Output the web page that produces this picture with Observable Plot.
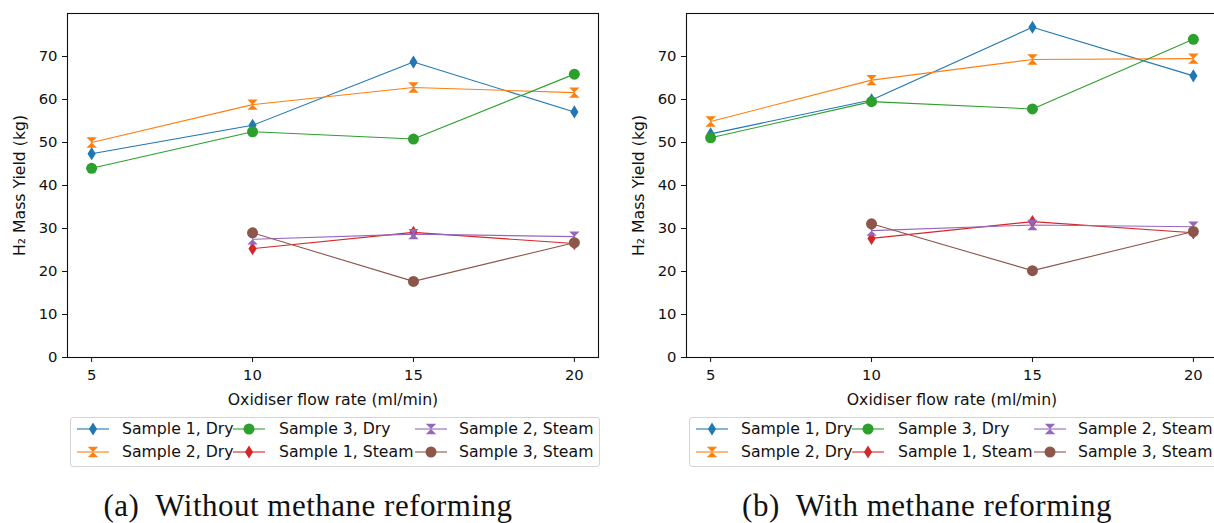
<!DOCTYPE html>
<html><head><meta charset="utf-8">
<script src="https://cdn.jsdelivr.net/npm/d3@7"></script>
<script src="https://cdn.jsdelivr.net/npm/@observablehq/plot@0.6"></script>
<style>
html,body{margin:0;padding:0;background:#fff;}
body{width:1214px;height:523px;overflow:hidden;position:relative;font-family:"DejaVu Sans",sans-serif;}
.panel{position:absolute;top:0;width:612px;height:523px;}
.legend{position:absolute;left:70px;top:417px;width:530px;height:50px;border:1px solid #d4d4d4;border-radius:3px;box-sizing:border-box;background:#fff;}
.item{position:absolute;height:20px;font-size:15.7px;line-height:20px;white-space:nowrap;color:#111;}
.handle{position:absolute;}
.caption{position:absolute;top:491px;left:0;width:616px;text-align:center;font-family:"Liberation Serif",serif;font-size:31px;line-height:30px;white-space:pre;letter-spacing:0.5px;color:#111;}
svg [aria-label$="axis label"] text, svg [aria-label$="axis label"]{font-size:15.7px;}
</style></head><body>
<div id="a" class="panel" style="left:0"></div>
<div id="b" class="panel" style="left:619px"></div>
<script>
// ---- data ----
const flowRates = [5, 10, 15, 20];
const steamFlowRates = [10, 15, 20];
const yTicks = [0, 10, 20, 30, 40, 50, 60, 70];
const seriesNames = ["Sample 1, Dry", "Sample 2, Dry", "Sample 3, Dry", "Sample 1, Steam", "Sample 2, Steam", "Sample 3, Steam"];

// (a) Without methane reforming
const a_s1Dry = [47.4, 54.0, 68.7, 57.1];
const a_s2Dry = [50.0, 58.8, 62.8, 61.6];
const a_s3Dry = [44.0, 52.5, 50.8, 65.9];
const a_s1Steam = [25.3, 29.1, 26.5];
const a_s2Steam = [27.5, 28.7, 28.1];
const a_s3Steam = [29.0, 17.7, 26.7];

// (b) With methane reforming
const b_s1Dry = [52.0, 59.9, 76.8, 65.5];
const b_s2Dry = [54.9, 64.5, 69.3, 69.5];
const b_s3Dry = [51.1, 59.5, 57.8, 74.0];
const b_s1Steam = [27.7, 31.6, 29.0];
const b_s2Steam = [29.5, 30.8, 30.4];
const b_s3Steam = [31.1, 20.2, 29.3];

const captions = ["(a)  Without methane reforming", "(b)  With methane reforming"];

// ---- styles ----
const colors = ["#1f77b4", "#ff7f0e", "#2ca02c", "#d62728", "#9467bd", "#8c564b"];
const thinDiamond = {draw(ctx, size) {const r = Math.sqrt(size / Math.PI), w = 0.62 * r;
  ctx.moveTo(0, -r); ctx.lineTo(w, 0); ctx.lineTo(0, r); ctx.lineTo(-w, 0); ctx.closePath();}};
const hourglass = {draw(ctx, size) {const r = Math.sqrt(size / Math.PI);
  ctx.moveTo(-r, -r); ctx.lineTo(r, -r); ctx.lineTo(0, 0); ctx.closePath();
  ctx.moveTo(-r, r); ctx.lineTo(r, r); ctx.lineTo(0, 0); ctx.closePath();}};
const disc = {draw(ctx, size) {const r = Math.sqrt(size / Math.PI);
  ctx.moveTo(r, 0); ctx.arc(0, 0, r, 0, 2 * Math.PI); ctx.closePath();}};
const symbols = [thinDiamond, hourglass, disc, thinDiamond, hourglass, disc];
const radii = [6.6, 5.2, 5.5, 6.6, 5.2, 5.5];

function makeSeries(arrs) {
  return arrs.map((ys, i) => {
    const xs = ys.length === 4 ? flowRates : steamFlowRates;
    return xs.map((x, j) => ({x, y: ys[j], series: seriesNames[i]}));
  });
}

function drawPanel(el, arrs, caption) {
  const series = makeSeries(arrs);
  const marks = [];
  series.forEach((data, i) => {
    marks.push(Plot.line(data, {x: "x", y: "y", stroke: colors[i], strokeWidth: 1.1}));
    marks.push(Plot.dot(data, {x: "x", y: "y", symbol: symbols[i], r: radii[i], fill: colors[i], stroke: "none"}));
  });
  marks.push(Plot.frame({stroke: "#111", strokeWidth: 1.1}));
  marks.push(Plot.axisX({ticks: flowRates, tickSize: 5, tickPadding: 7, label: "Oxidiser flow rate (ml/min)",
    labelAnchor: "center", labelArrow: "none", labelOffset: 47}));
  marks.push(Plot.axisY({ticks: yTicks, tickSize: 5, tickPadding: 5, label: "H₂ Mass Yield (kg)",
    labelAnchor: "center", labelArrow: "none", labelOffset: 54}));
  const chart = Plot.plot({
    width: 612, height: 412,
    marginLeft: 67, marginRight: 14, marginTop: 13, marginBottom: 55,
    x: {domain: [4.25, 20.75]},
    y: {domain: [0, 80]},
    style: {fontFamily: "DejaVu Sans", fontSize: "14.8px", color: "#111", background: "transparent", overflow: "visible"},
    marks
  });
  el.appendChild(chart);

  // legend (HTML below the svg)
  const lg = document.createElement("div");
  lg.className = "legend";
  const colX = [[6, 51], [162, 208], [344, 388]];
  const rowY = [11, 34];
  seriesNames.forEach((name, i) => {
    const col = Math.floor(i / 2), row = i % 2;
    const [hx, tx] = colX[col];
    const svgNS = "http://www.w3.org/2000/svg";
    const h = document.createElementNS(svgNS, "svg");
    h.setAttribute("class", "handle");
    h.setAttribute("width", 32); h.setAttribute("height", 20);
    h.style.left = hx + "px"; h.style.top = (rowY[row] - 10) + "px";
    const ln = document.createElementNS(svgNS, "line");
    ln.setAttribute("x1", 0); ln.setAttribute("x2", 32); ln.setAttribute("y1", 10); ln.setAttribute("y2", 10);
    ln.setAttribute("stroke", colors[i]); ln.setAttribute("stroke-width", 1.1);
    h.appendChild(ln);
    const p = d3.path();
    symbols[i].draw(p, Math.PI * radii[i] * radii[i]);
    const mk = document.createElementNS(svgNS, "path");
    mk.setAttribute("d", p.toString());
    mk.setAttribute("transform", "translate(16,10)");
    mk.setAttribute("fill", colors[i]);
    h.appendChild(mk);
    lg.appendChild(h);
    const t = document.createElement("div");
    t.className = "item";
    t.textContent = name;
    t.style.left = tx + "px"; t.style.top = (rowY[row] - 10) + "px";
    lg.appendChild(t);
  });
  el.appendChild(lg);

  const cap = document.createElement("div");
  cap.className = "caption";
  cap.textContent = caption;
  el.appendChild(cap);
}

drawPanel(document.getElementById("a"), [a_s1Dry, a_s2Dry, a_s3Dry, a_s1Steam, a_s2Steam, a_s3Steam], captions[0]);
drawPanel(document.getElementById("b"), [b_s1Dry, b_s2Dry, b_s3Dry, b_s1Steam, b_s2Steam, b_s3Steam], captions[1]);
</script>
</body></html>
